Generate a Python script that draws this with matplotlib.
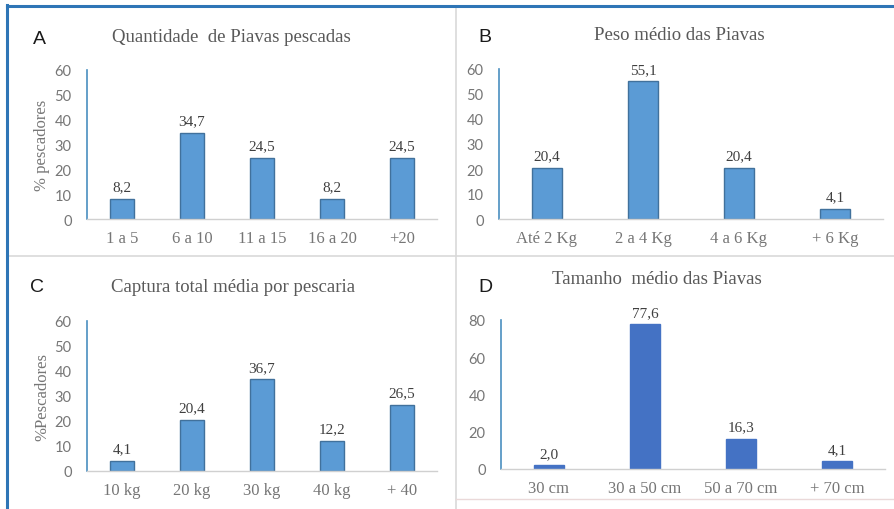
import numpy as np
import matplotlib.pyplot as plt
from matplotlib.lines import Line2D

# dados dos quatro painéis (% de pescadores)
cat_a = ['1 a 5', '6 a 10', '11 a 15', '16 a 20', '+20']
val_a = [8.2, 34.7, 24.5, 8.2, 24.5]

cat_b = ['Até 2 Kg', '2 a 4 Kg', '4 a 6 Kg', '+ 6 Kg']
val_b = [20.4, 55.1, 20.4, 4.1]

cat_c = ['10 kg', '20 kg', '30 kg', '40 kg', '+ 40']
val_c = [4.1, 20.4, 36.7, 12.2, 26.5]

cat_d = ['30 cm', '30 a 50 cm', '50 a 70 cm', '+ 70 cm']
val_d = [2.0, 77.6, 16.3, 4.1]

W, H = 894, 510
SERIF = 'Liberation Serif'
SANS = 'Lato'
GRAY = '#595959'
TICK_GRAY = '#767676'


def px_axes(fig, x0, x1, ytop, ybot):
    """cria eixos a partir de coordenadas em pixels (origem no canto superior)"""
    return fig.add_axes([x0 / W, (H - ybot) / H, (x1 - x0) / W, (ybot - ytop) / H])


def bar_panel(ax, cats, vals, ymax, step, color, edge, width, ylabel=None):
    x = np.arange(len(cats))
    ax.bar(x, vals, width=width, color=color, edgecolor=edge, linewidth=1.0, zorder=2)
    for xi, v in zip(x, vals):
        ax.annotate(f'{v:.1f}'.replace('.', ','), (xi, v), xytext=(0, 4),
                    textcoords='offset points', ha='center', va='bottom',
                    fontsize=11, family=SERIF, color='#404040')
    ax.set_xlim(-0.5, len(cats) - 0.5)
    ax.set_ylim(0, ymax)
    ax.set_yticks(np.arange(0, ymax + 1, step))
    ax.set_xticks(x)
    ax.set_xticklabels(cats)
    ax.tick_params(length=0, labelcolor=TICK_GRAY)
    ax.tick_params(axis='y', pad=11, labelsize=10.5)
    ax.tick_params(axis='x', pad=8, labelsize=12)
    for lab in ax.get_xticklabels():
        lab.set_family(SERIF)
    for lab in ax.get_yticklabels():
        lab.set_family(SANS)
    for s in ['top', 'right']:
        ax.spines[s].set_visible(False)
    ax.spines['left'].set_color('#4a8fc0')
    ax.spines['left'].set_linewidth(1.2)
    ax.spines['bottom'].set_color('#d0d0d0')
    ax.spines['bottom'].set_linewidth(1.0)
    ax.patch.set_alpha(0)
    if ylabel:
        ax.set_ylabel(ylabel, family=SERIF, fontsize=12, color=TICK_GRAY, labelpad=3)


fig = plt.figure(figsize=(W / 100, H / 100), dpi=100)
fig.patch.set_facecolor('white')

# molduras dos painéis
def fig_line(xs, ys, **kw):
    fig.add_artist(Line2D([x / W for x in xs], [1 - y / H for y in ys],
                          transform=fig.transFigure, **kw))

fig_line([7, 456], [257, 257], color='#d9d9d9', lw=1.2)
fig_line([456, 894], [257, 257], color='#d9d9d9', lw=1.2)
fig_line([456, 456], [7, 510], color='#d9d9d9', lw=1.2)
fig_line([456, 894], [500, 500], color='#ead9d9', lw=1.0)
fig_line([7, 894], [6.5, 6.5], color='#2e75b6', lw=2.2)
fig_line([7, 7], [6, 510], color='#2e75b6', lw=2.2)

light = '#5b9bd5'
light_edge = '#41719c'
dark = '#4472c4'

ax_a = px_axes(fig, 87, 437, 71, 220)
bar_panel(ax_a, cat_a, val_a, 60, 10, light, light_edge, 0.33, '% pescadores')

ax_b = px_axes(fig, 499, 883, 70, 220)
bar_panel(ax_b, cat_b, val_b, 60, 10, light, light_edge, 0.31)

ax_c = px_axes(fig, 87, 437, 322, 472)
bar_panel(ax_c, cat_c, val_c, 60, 10, light, light_edge, 0.33, '%Pescadores')

ax_d = px_axes(fig, 501, 885, 321, 470)
bar_panel(ax_d, cat_d, val_d, 80, 20, dark, dark, 0.31)

# títulos e letras dos painéis
titles = [(231, 37, 'Quantidade  de Piavas pescadas'),
          (679, 35, 'Peso médio das Piavas'),
          (233, 287, 'Captura total média por pescaria'),
          (657, 280, 'Tamanho  médio das Piavas')]
for x, y, t in titles:
    fig.text(x / W, 1 - y / H, t, ha='center', va='center',
             family=SERIF, fontsize=13.5, color=GRAY)

letters = [(39, 40, 'A'), (485, 37, 'B'), (37, 288, 'C'), (485, 288, 'D')]
for x, y, t in letters:
    fig.text(x / W, 1 - y / H, t, ha='center', va='center',
             family='Liberation Sans', fontsize=14, color='#1a1a1a')

fig.savefig('out.png', dpi=100)
